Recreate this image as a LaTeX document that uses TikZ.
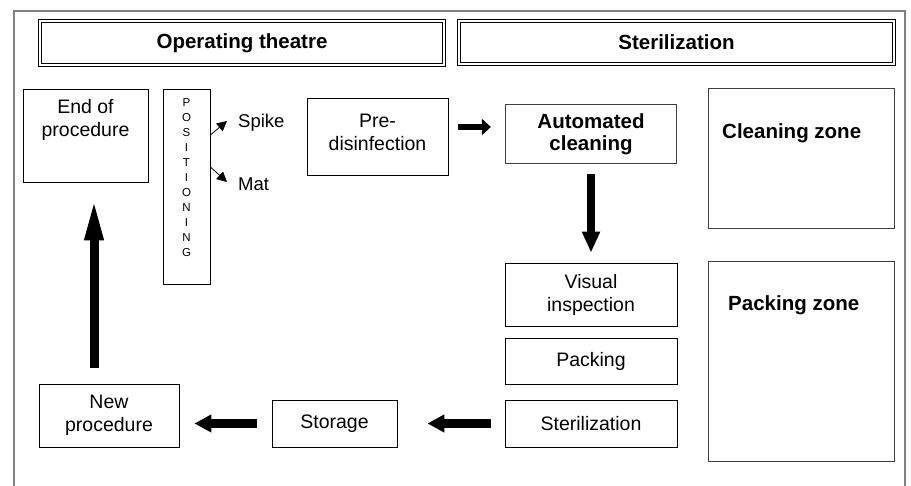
\documentclass[tikz,border=0pt]{standalone}
\usepackage{fontspec}
\setmainfont{Liberation Sans}
\usetikzlibrary{arrows.meta}
\tikzstyle{block} = [rectangle, draw, line width=0.8pt, inner sep=0pt,
    align=center, font=\fontsize{19.5}{23}\selectfont]
\tikzstyle{header} = [rectangle, draw, line width=1.2pt, double, double distance=2pt,
    font=\fontsize{20.5}{24}\selectfont\bfseries]
\tikzstyle{zone} = [rectangle, draw=black!75, line width=0.7pt, double, double distance=1pt,
    inner sep=0pt, align=center]
\tikzstyle{caption} = [align=center, inner sep=0pt, font=\fontsize{19.5}{23}\selectfont]
\tikzstyle{zonetext} = [anchor=west, inner sep=0pt, font=\fontsize{20.5}{24}\selectfont\bfseries]
\tikzstyle{fat} = [draw, line width=9pt, -{Triangle[length=17pt,width=17pt]}]
\tikzstyle{pointer} = [draw, line width=0.8pt, -{Triangle[length=10pt,width=10pt]}]
\begin{document}
\begin{tikzpicture}[x=1pt, y=-1pt]
    \useasboundingbox (0,0) rectangle (911,486);
    \draw [gray, line width=2pt] (14,492) -- (14,11) -- (905,11) -- (905,492);
    % Headers
    \node [header, minimum width=403.6pt, minimum height=43.6pt] (theatre) at (242,43) {Operating theatre};
    \node [header, minimum width=434.6pt, minimum height=42.6pt] (sterhead) at (676.5,42.5) {Sterilization};
    % Operating theatre side
    \node [block, minimum width=125pt, minimum height=93pt] (endproc) at (85.5,135.5) {};
    \node [caption] (endtxt) at (85.5,120) {End of\\procedure};
    \node [block, minimum width=47pt, minimum height=195pt] (posit) at (186.5,186.5) {};
    \node [caption, font=\fontsize{11.5}{15}\selectfont] (posittxt) at (186.5,178) {P\\O\\S\\I\\T\\I\\O\\N\\I\\N\\G};
    \node [anchor=west, inner sep=0pt, font=\fontsize{18.5}{21}\selectfont] (spike) at (238,123) {Spike};
    \node [anchor=west, inner sep=0pt, font=\fontsize{18.5}{21}\selectfont] (mat) at (238,184) {Mat};
    \node [block, minimum width=141pt, minimum height=77pt] (predis) at (377.5,136.5) {};
    \node [caption] (predistxt) at (377.5,132) {Pre-\\disinfection};
    \node [block, minimum width=140pt, minimum height=63pt] (newproc) at (109,415.5) {New\\procedure};
    \node [block, minimum width=125pt, minimum height=47pt] (storage) at (334.5,423.5) {Storage};
    % Sterilization side
    \node [zone, minimum width=169.6pt, minimum height=57.6pt, font=\fontsize{20.5}{22}\selectfont\bfseries] (autoclean) at (591,134) {Automated\\cleaning};
    \node [block, minimum width=172pt, minimum height=63pt] (visinsp) at (591,294.5) {Visual\\inspection};
    \node [block, minimum width=172pt, minimum height=46pt] (packing) at (591,361) {Packing};
    \node [block, minimum width=172pt, minimum height=47pt] (steril) at (591,423.5) {Sterilization};
    \node [zone, minimum width=184.6pt, minimum height=138.6pt] (cleanzone) at (801.5,158.5) {};
    \node [zonetext] (cleantxt) at (722,133) {Cleaning zone};
    \node [zone, minimum width=184.6pt, minimum height=198.6pt] (packzone) at (801.5,361.5) {};
    \node [zonetext] (packtxt) at (728,305) {Packing zone};
    % Paths
    \path [pointer] ([yshift=51.5pt]posit.east) -- ([xshift=-11pt,yshift=2pt]spike.west);
    \path [pointer] ([yshift=19.5pt]posit.east) -- ([xshift=-11pt,yshift=2pt]mat.west);
    \path [draw, line width=6pt, -{Triangle[length=9pt,width=16pt]}, shorten <=10pt, shorten >=15pt]
        ([yshift=9.5pt]predis.east) -- ([yshift=7pt]autoclean.west);
    \path [fat, line width=8.5pt, -{Triangle[length=21pt,width=17pt]}, shorten <=11pt, shorten >=10pt] (autoclean.south) -- (visinsp.north);
    \path [fat, shorten <=14pt, shorten >=30pt] (steril.west) -- (storage.east);
    \path [fat, shorten <=15pt, shorten >=15pt] (storage.west) -- (storage.west -| newproc.east);
    \path [fat, -{Triangle[length=43pt,width=17pt]}, shorten <=16pt, shorten >=15pt] ([xshift=-15pt]newproc.north) -- ([xshift=8.5pt]endproc.south);
\end{tikzpicture}
\end{document}
